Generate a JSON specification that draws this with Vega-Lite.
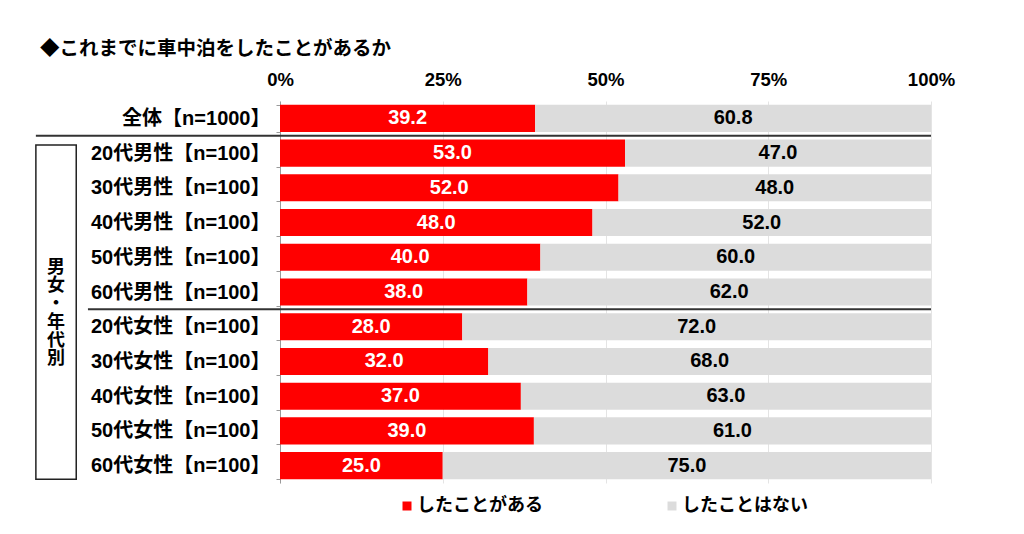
{
  "$schema": "https://vega.github.io/schema/vega-lite/v6.json",
  "width": 651,
  "height": 382,
  "autosize": {"type": "none"},
  "padding": {"left": 280, "top": 101, "right": 93, "bottom": 51},
  "background": "white",
  "config": {"font": "Liberation Sans, Noto Sans CJK JP", "view": {"stroke": null}},
  "title": {"text": "◆これまでに車中泊をしたことがあるか", "anchor": "start", "frame": "group", "dx": -240, "fontSize": 19.5, "fontWeight": "bold", "color": "#000000", "offset": 11},
  "data": {
    "values": [
      {"cat": "全体【n=1000】", "answer": "したことがある", "value": 39.2},
      {"cat": "全体【n=1000】", "answer": "したことはない", "value": 60.8},
      {"cat": "20代男性【n=100】", "answer": "したことがある", "value": 53.0},
      {"cat": "20代男性【n=100】", "answer": "したことはない", "value": 47.0},
      {"cat": "30代男性【n=100】", "answer": "したことがある", "value": 52.0},
      {"cat": "30代男性【n=100】", "answer": "したことはない", "value": 48.0},
      {"cat": "40代男性【n=100】", "answer": "したことがある", "value": 48.0},
      {"cat": "40代男性【n=100】", "answer": "したことはない", "value": 52.0},
      {"cat": "50代男性【n=100】", "answer": "したことがある", "value": 40.0},
      {"cat": "50代男性【n=100】", "answer": "したことはない", "value": 60.0},
      {"cat": "60代男性【n=100】", "answer": "したことがある", "value": 38.0},
      {"cat": "60代男性【n=100】", "answer": "したことはない", "value": 62.0},
      {"cat": "20代女性【n=100】", "answer": "したことがある", "value": 28.0},
      {"cat": "20代女性【n=100】", "answer": "したことはない", "value": 72.0},
      {"cat": "30代女性【n=100】", "answer": "したことがある", "value": 32.0},
      {"cat": "30代女性【n=100】", "answer": "したことはない", "value": 68.0},
      {"cat": "40代女性【n=100】", "answer": "したことがある", "value": 37.0},
      {"cat": "40代女性【n=100】", "answer": "したことはない", "value": 63.0},
      {"cat": "50代女性【n=100】", "answer": "したことがある", "value": 39.0},
      {"cat": "50代女性【n=100】", "answer": "したことはない", "value": 61.0},
      {"cat": "60代女性【n=100】", "answer": "したことがある", "value": 25.0},
      {"cat": "60代女性【n=100】", "answer": "したことはない", "value": 75.0}
    ]
  },
  "transform": [
    {"stack": "value", "groupby": ["cat"], "sort": [{"field": "answer", "order": "ascending"}], "as": ["x0", "x1"]},
    {"calculate": "(datum.x0 + datum.x1) / 2", "as": "mid"}
  ],
  "layer": [
    {
      "mark": {"type": "bar"},
      "encoding": {
        "y": {
          "field": "cat", "type": "nominal", "sort": null,
          "scale": {"paddingInner": 0.22, "paddingOuter": 0.11, "domain": ["全体【n=1000】", "20代男性【n=100】", "30代男性【n=100】", "40代男性【n=100】", "50代男性【n=100】", "60代男性【n=100】", "20代女性【n=100】", "30代女性【n=100】", "40代女性【n=100】", "50代女性【n=100】", "60代女性【n=100】"]},
          "axis": {"title": null, "labelFontSize": 20, "labelFontWeight": "bold", "labelColor": "#000000", "domainColor": "#9a9a9a", "tickColor": "#9a9a9a", "tickSize": 4, "tickBand": "extent", "labelPadding": 6, "labelLimit": 0}
        },
        "x": {
          "field": "x0", "type": "quantitative",
          "scale": {"domain": [0, 100], "nice": false},
          "axis": {"orient": "top", "title": null, "values": [0, 25, 50, 75, 100], "labelExpr": "datum.value + '%'", "labelFlush": false, "labelFontSize": 18.5, "labelFontWeight": "bold", "labelColor": "#000000", "domain": false, "ticks": false, "grid": true, "gridColor": "#e4e4e4", "labelPadding": 12}
        },
        "x2": {"field": "x1"},
        "color": {
          "field": "answer", "type": "nominal",
          "scale": {"domain": ["したことがある", "したことはない"], "range": ["#ff0000", "#dcdcdc"]},
          "legend": {"title": null, "orient": "none", "legendX": 118, "legendY": 396, "direction": "horizontal", "symbolType": "square", "symbolSize": 81, "symbolStrokeWidth": 0, "labelFontSize": 18, "labelFontWeight": "bold", "labelColor": "#000000", "columnPadding": 120, "labelOffset": 1, "labelLimit": 0}
        }
      }
    },
    {
      "mark": {"type": "text", "fontSize": 20, "fontWeight": "bold", "align": "center", "baseline": "middle"},
      "encoding": {
        "y": {"field": "cat", "type": "nominal", "sort": null},
        "x": {"field": "mid", "type": "quantitative"},
        "text": {"field": "value", "type": "quantitative", "format": ".1f"},
        "color": {"condition": {"test": "datum.answer === 'したことがある'", "value": "#ffffff"}, "value": "#000000"}
      }
    },
    {
      "data": {"values": [{}]},
      "mark": {"type": "rule", "color": "#333333", "strokeWidth": 2, "yOffset": -17.4},
      "encoding": {
        "x": {"datum": -37.5, "type": "quantitative"},
        "x2": {"datum": 100},
        "y": {"datum": "20代男性【n=100】", "type": "nominal"}
      }
    },
    {
      "data": {"values": [{}]},
      "mark": {"type": "rule", "color": "#333333", "strokeWidth": 2, "yOffset": -17.4},
      "encoding": {
        "x": {"datum": -29.5, "type": "quantitative"},
        "x2": {"datum": 100},
        "y": {"datum": "20代女性【n=100】", "type": "nominal"}
      }
    },
    {
      "data": {"values": [{}]},
      "mark": {"type": "rect", "fill": "#ffffff", "stroke": "#222222", "strokeWidth": 1.5, "yOffset": -8, "y2Offset": 13.5},
      "encoding": {
        "x": {"datum": -37.5, "type": "quantitative"},
        "x2": {"datum": -31.3},
        "y": {"datum": "20代男性【n=100】", "type": "nominal"},
        "y2": {"datum": "60代女性【n=100】"}
      }
    },
    {
      "data": {"values": [{}]},
      "mark": {"type": "text", "text": "男\n女\n・\n年\n代\n別", "lineBreak": "\n", "lineHeight": 18.2, "fontSize": 18, "fontWeight": "bold", "align": "center", "baseline": "middle", "color": "#000000", "yOffset": -24},
      "encoding": {
        "x": {"datum": -34.4, "type": "quantitative"},
        "y": {"datum": "60代男性【n=100】", "type": "nominal"}
      }
    }
  ]
}
